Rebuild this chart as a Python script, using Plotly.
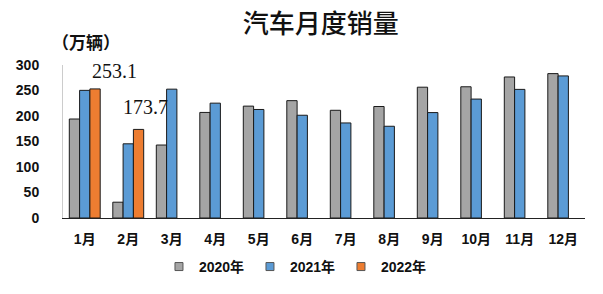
import plotly.graph_objects as go

months = ["1月", "2月", "3月", "4月", "5月", "6月", "7月", "8月", "9月", "10月", "11月", "12月"]
sales_2020 = [194.1, 31.0, 143.1, 207.0, 219.4, 230.1, 211.2, 218.6, 256.5, 257.3, 276.5, 283.1]
sales_2021 = [250.3, 145.5, 252.6, 225.2, 212.8, 201.5, 186.4, 179.9, 206.7, 233.2, 252.2, 278.6]
sales_2022 = [253.1, 173.7, None, None, None, None, None, None, None, None, None, None]
series_names = ["2020年", "2021年", "2022年"]
y_ticks = [0, 50, 100, 150, 200, 250, 300]

colors = ["#A5A5A5", "#5B9BD5", "#ED7D31"]
font_family = "Liberation Sans, Noto Sans CJK SC, sans-serif"

fig = go.Figure()
for name, vals, col in zip(series_names, [sales_2020, sales_2021, sales_2022], colors):
    fig.add_trace(go.Bar(
        x=months, y=vals, name=name, legendgroup=name, showlegend=False,
        marker=dict(color=col, line=dict(color="#1a1a1a", width=1)),
    ))
    # legend-only proxy with small square symbol
    fig.add_trace(go.Scatter(
        x=[None], y=[None], mode="markers", name=name, legendgroup=name,
        marker=dict(symbol="square", size=8, color=col, line=dict(color="#555", width=1)),
    ))

# data labels for 2022
label_xshifts = [30, 17]
label_yshifts = [5, 9]
for m, v, sx, sy in zip(months, sales_2022, label_xshifts, label_yshifts):
    if v is not None:
        fig.add_annotation(
            x=m, y=v, text=f"{v}", showarrow=False,
            xshift=sx, yshift=sy, yanchor="bottom",
            font=dict(family="Liberation Serif, serif", size=20, color="#111"),
        )

fig.add_annotation(
    text="（万辆）", xref="paper", yref="paper", x=0.044, y=1.06,
    xanchor="center", yanchor="bottom", showarrow=False,
    font=dict(family="Noto Sans CJK SC", size=17, color="#111", weight="bold"),
)

fig.update_layout(
    width=603, height=294,
    margin=dict(l=63, r=18, t=65, b=76, autoexpand=False),
    plot_bgcolor="white", paper_bgcolor="white",
    title=dict(text="汽车月度销量", x=0.532, xanchor="center", xref="container",
               y=0.918, yanchor="middle", yref="container",
               font=dict(family="Noto Sans CJK SC", size=26, color="#111", weight=500)),
    barmode="group", bargap=0.29, bargroupgap=0,
    showlegend=True,
    legend=dict(orientation="h", x=0.49, xanchor="center", xref="container",
                y=0.092, yanchor="middle", yref="container",
                font=dict(family=font_family, size=14, color="#111", weight="bold"),
                itemwidth=30, traceorder="normal", tracegroupgap=0,
                entrywidth=46, entrywidthmode="pixels"),
    xaxis=dict(showline=True, linecolor="#222", linewidth=1, showgrid=False,
               tickfont=dict(family=font_family, size=14, color="#111", weight="bold"),
               ticks="", ticklabelstandoff=8, range=[-0.5, 11.5]),
    yaxis=dict(range=[0, 300], tickvals=y_ticks, showgrid=False, zeroline=False,
               showline=True, linecolor="#cccccc", linewidth=1,
               tickfont=dict(family=font_family, size=14, color="#111", weight="bold"),
               ticks="", ticklabelstandoff=20),
)

fig.write_html("out.html")
